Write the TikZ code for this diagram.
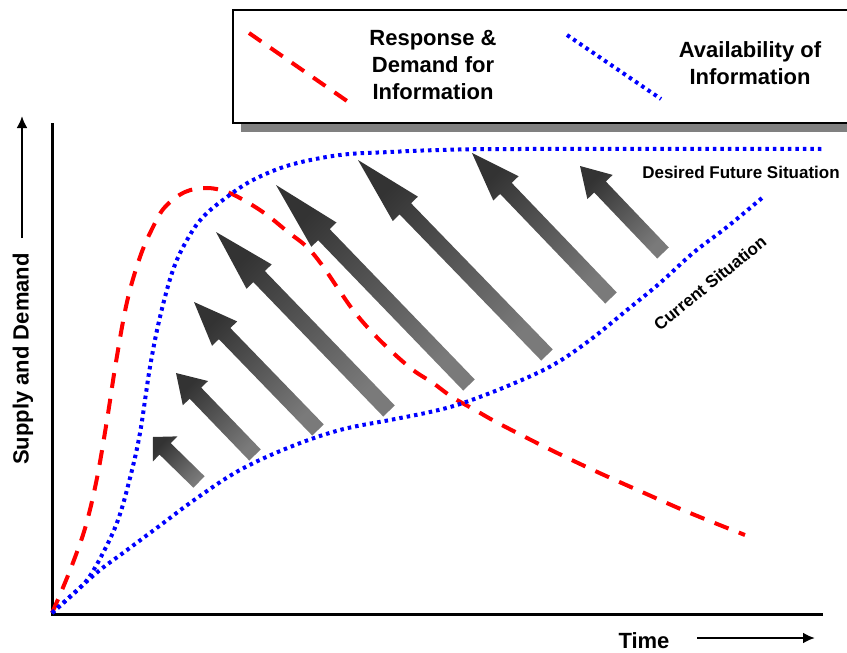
\documentclass[tikz,border=0pt]{standalone}
\usepackage{fontspec}
\setmainfont{Liberation Sans}
\usetikzlibrary{arrows.meta,calc}

\definecolor{infored}{RGB}{255,0,0}
\definecolor{infoblue}{RGB}{0,0,255}
\definecolor{shadowgray}{RGB}{128,128,128}

\begin{document}
\begin{tikzpicture}[
  x=1pt, y=-1pt,
  axis/.style={line width=3pt},
  demand/.style={infored, line width=4pt, dash pattern=on 15pt off 11pt},
  avail/.style={infoblue, line width=4pt, dash pattern=on 3.5pt off 4pt},
  lbl/.style={font=\fontsize{22}{27}\selectfont\bfseries, align=center, inner sep=0pt},
  sit/.style={font=\fontsize{17}{20}\selectfont\bfseries, inner sep=0pt},
  dir/.style={-{Latex[length=12pt,width=11pt]}, line width=2.5pt},
  push/.style={top color=black!80, bottom color=black!52, shading angle=45}
]
  \useasboundingbox (0,0) rectangle (847,653);
  \clip (0,0) rectangle (847,653);

  % legend
  \fill[shadowgray] (241,123) rectangle (860,132);
  \draw[line width=2.5pt, fill=white] (233,10) rectangle (860,123);
  \coordinate (r1) at (249,33);
  \coordinate (r2) at (347,101);
  \coordinate (b1) at (567,35);
  \coordinate (b2) at (661,99);
  \draw[demand] (r1) -- (r2);
  \draw[avail] (b1) -- (b2);
  \node[lbl] (resp) at (433,65) {Response \&\\Demand for\\Information};
  \node[lbl] (availinfo) at (750,63) {Availability of\\Information};

  % axes
  \coordinate (origin) at (52,614);
  \coordinate (ytop) at (52,123);
  \coordinate (xend) at (823,614);
  \draw[axis] (ytop) |- (xend);

  \node[lbl, rotate=90] (supply) at (23,359) {Supply and Demand};
  \coordinate (ya) at (22,238);
  \coordinate (yb) at (22,116);
  \draw[dir] (ya) -- (yb);

  \node[lbl] (time) at (644,641) {Time};
  \coordinate (ta) at (697,638);
  \coordinate (tb) at (815,638);
  \draw[dir] (ta) -- (tb);

  % shaded arrows: tail / tip / head length
  \foreach \sx/\sy/\tx/\ty/\hl in {
      199/482/153/437/17pt, 255/455/176/373/28pt,
      318/430/194/302/44pt, 389/411/216/232/62pt,
      469/385/276/185/69pt, 547/355/358/160/68pt,
      611/298/472/153/49pt, 663/253/580/166/29pt} {
    \coordinate (s) at (\sx,\sy);
    \coordinate (t) at (\tx,\ty);
    \coordinate (b) at ($(t)!\hl!(s)$);
    \shade[push] ($(s)!8pt!90:(t)$) -- ($(b)!8pt!90:(t)$)
      -- ($(b)!17.5pt!90:(t)$) -- (t) -- ($(b)!17.5pt!-90:(t)$)
      -- ($(b)!8pt!-90:(t)$) -- ($(s)!8pt!-90:(t)$) -- cycle;
  }

  % curves
  \draw[demand] plot[smooth, tension=0.6] coordinates {
    (52,613) (62,590) (74,560) (86,525) (97,478) (107,420) (116,362)
    (127,302) (140,257) (153,227) (165,207) (185,192) (207,188) (227,192)
    (247,202) (267,215) (288,232) (307,247) (322,265) (337,287) (353,310)
    (370,330) (390,350) (413,370) (433,383) (452,397) (475,410) (498,423)
    (545,447) (593,470) (642,492) (690,513) (745,535)};
  \draw[avail] plot[smooth, tension=0.6] coordinates {
    (52,613) (70,597) (87,580) (103,553) (118,520) (130,478) (140,433)
    (150,367) (160,317) (173,270) (187,240) (203,217) (227,197) (253,180)
    (290,165) (340,155) (390,152) (440,150) (520,149) (822,149)};
  \draw[avail] plot[smooth, tension=0.6] coordinates {
    (52,613) (75,592) (100,570) (123,553) (158,527) (197,498) (240,470)
    (290,447) (340,430) (390,420) (430,412) (463,403) (510,385) (553,365)
    (590,340) (627,310) (660,283) (693,253) (727,227) (762,198)};

  \node[sit] (future) at (741,172) {Desired Future Situation};
  \node[sit, rotate=39] (current) at (710,283) {Current Situation};
\end{tikzpicture}
\end{document}
